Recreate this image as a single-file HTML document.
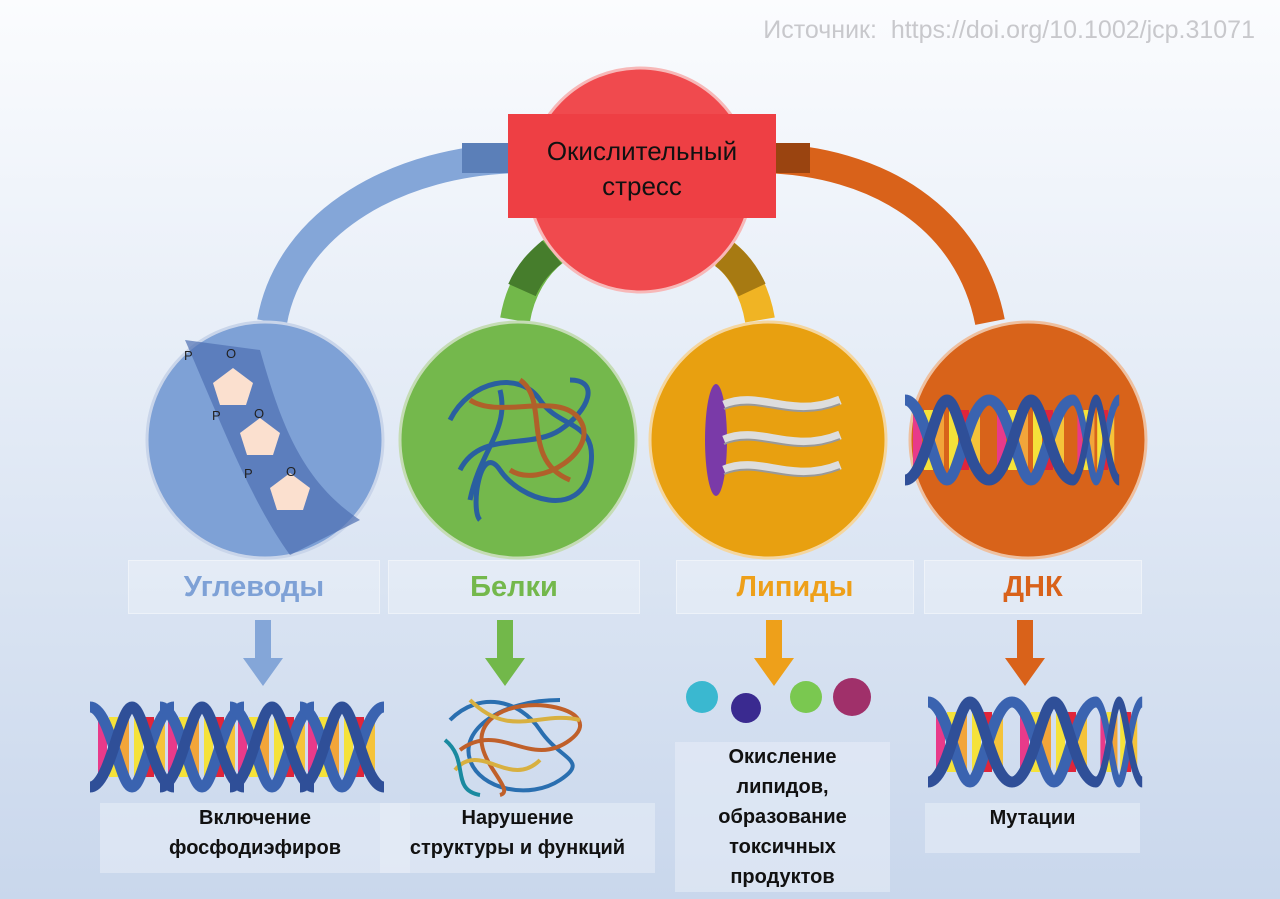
<!DOCTYPE html>
<html><head><meta charset="utf-8"><style>
body{margin:0;width:1280px;height:899px;overflow:hidden;font-family:"Liberation Sans",sans-serif;background:linear-gradient(#fbfcfe 0%,#e6edf7 40%,#c9d7ec 100%);position:relative}
.t{position:absolute;text-align:center;font-weight:bold;color:#111;font-size:20px;line-height:30px}
.lb{position:absolute;top:560px;height:52px;line-height:52px;text-align:center;font-weight:bold;font-size:29px;background:rgba(255,255,255,.25);border:1px solid rgba(255,255,255,.4)}
</style></head><body>
<div style="position:absolute;right:25px;top:16px;font-size:25px;color:#c8c8cc">Источник:&nbsp; https://doi.org/10.1002/jcp.31071</div>
<svg width="1280" height="899" style="position:absolute;left:0;top:0">
<defs>
<g id="dna">
 <rect x="8" y="10" width="9" height="60" fill="#e83a8a"/><rect x="19" y="10" width="9" height="60" fill="#f5e23a"/><rect x="30" y="10" width="9" height="60" fill="#f2a53a"/>
 <rect x="44" y="10" width="9" height="60" fill="#f5e23a"/><rect x="55" y="10" width="9" height="60" fill="#e0253a"/><rect x="66" y="10" width="9" height="60" fill="#f5c33a"/>
 <path d="M0 0 C20 0 30 80 42 80 S64 0 84 0" stroke="#3a63b0" stroke-width="11" fill="none"/>
 <path d="M0 80 C20 80 30 0 42 0 S64 80 84 80" stroke="#2f4f98" stroke-width="11" fill="none"/>
</g>
</defs>
<!-- arcs -->
<path d="M272 322 C290 220 400 160 520 158" stroke="#84a6d8" stroke-width="30" fill="none"/>
<path d="M462 158 L520 158" stroke="#5b7fb8" stroke-width="30"/>
<path d="M990 322 C970 220 880 160 760 158" stroke="#d9621a" stroke-width="30" fill="none"/>
<path d="M770 158 L810 158" stroke="#9a4410" stroke-width="30"/>
<path d="M515 320 C520 290 535 265 555 250" stroke="#72b84a" stroke-width="30" fill="none"/>
<path d="M522 290 C530 272 540 262 552 252" stroke="#467d2c" stroke-width="30" fill="none"/>
<path d="M760 320 C755 290 740 265 722 252" stroke="#f0b424" stroke-width="30" fill="none"/>
<path d="M752 290 C745 275 735 262 724 254" stroke="#a77a12" stroke-width="30" fill="none"/>
<!-- center -->
<circle cx="640" cy="180" r="112" fill="#f04a4e" stroke="#f7b8b8" stroke-width="3"/>
<rect x="508" y="114" width="268" height="104" fill="#ee3f44"/>
<text x="642" y="160" text-anchor="middle" font-size="26" fill="#111" font-family="Liberation Sans">Окислительный</text>
<text x="642" y="195" text-anchor="middle" font-size="26" fill="#111" font-family="Liberation Sans">стресс</text>
<!-- circles -->
<circle cx="265" cy="440" r="118" fill="#7ea1d6" stroke="#c9d5ea" stroke-width="3"/>
<path d="M185 340 L260 350 C280 420 300 480 360 520 L290 555 C250 500 220 420 185 340Z" fill="#4e6fb2" opacity=".7"/>
<polygon points="213,383 233,368 253,383 246,405 220,405" fill="#fbe0cf"/>
<polygon points="240,433 260,418 280,433 273,455 247,455" fill="#fbe0cf"/>
<polygon points="270,488 290,473 310,488 303,510 277,510" fill="#fbe0cf"/>
<text x="184" y="360" font-size="13" fill="#222">P</text><text x="226" y="358" font-size="13" fill="#222">O</text>
<text x="212" y="420" font-size="13" fill="#222">P</text><text x="254" y="418" font-size="13" fill="#222">O</text>
<text x="244" y="478" font-size="13" fill="#222">P</text><text x="286" y="476" font-size="13" fill="#222">O</text>
<circle cx="518" cy="440" r="118" fill="#74b84c" stroke="#c5dcb5" stroke-width="3"/>
<path d="M450 420 C470 380 520 370 540 400 S600 420 590 470 S520 500 500 470 S470 510 480 520 M460 470 C480 430 530 450 560 430 S600 380 570 380 M500 390 C510 430 480 450 470 500" stroke="#2a5fa0" stroke-width="5" fill="none"/>
<path d="M470 400 C500 420 560 390 580 420 S540 490 510 470 M520 380 C550 400 520 460 570 480" stroke="#b0602a" stroke-width="5" fill="none"/>
<circle cx="768" cy="440" r="118" fill="#e8a010" stroke="#f4d6a0" stroke-width="3"/>
<ellipse cx="716" cy="440" rx="11" ry="56" fill="#7a3aa8"/>
<path d="M724 405 C760 390 790 420 840 400 M724 440 C760 425 790 455 840 435 M724 470 C760 455 790 485 840 465" stroke="#ddd" stroke-width="9" fill="none"/>
<path d="M724 405 C760 390 790 420 840 400 M724 440 C760 425 790 455 840 435 M724 470 C760 455 790 485 840 465" stroke="#999" stroke-width="2" fill="none" transform="translate(0,4)"/>
<circle cx="1028" cy="440" r="118" fill="#d8631a" stroke="#eec0a0" stroke-width="3"/>
<use href="#dna" x="905" y="400"/><use href="#dna" x="989" y="400"/><use href="#dna" x="1040" y="400" opacity="0"/>
<g transform="translate(1073,400) scale(0.55,1)"><use href="#dna"/></g>
<!-- arrows -->
<g fill="#84a6d8"><rect x="255" y="620" width="16" height="40"/><polygon points="243,658 283,658 263,686"/></g>
<g fill="#72b84a"><rect x="497" y="620" width="16" height="40"/><polygon points="485,658 525,658 505,686"/></g>
<g fill="#eea01a"><rect x="766" y="620" width="16" height="40"/><polygon points="754,658 794,658 774,686"/></g>
<g fill="#d9621a"><rect x="1017" y="620" width="16" height="40"/><polygon points="1005,658 1045,658 1025,686"/></g>
<!-- bottom images -->
<use href="#dna" x="90" y="707"/><use href="#dna" x="160" y="707"/><use href="#dna" x="230" y="707"/><use href="#dna" x="300" y="707"/>
<g stroke-width="4" fill="none">
<path d="M450 720 C480 690 520 700 540 730 S590 760 560 780 S480 790 470 760 S500 700 560 700" stroke="#2a6fb0"/>
<path d="M460 750 C500 720 530 770 570 740 S520 690 490 720 S520 790 500 795" stroke="#c0602a"/>
<path d="M470 700 C510 740 540 710 580 720 M455 770 C480 740 510 790 540 760" stroke="#d8b040"/>
<path d="M445 740 C470 760 450 790 480 795" stroke="#1a8aa0"/>
</g>
<circle cx="702" cy="697" r="16" fill="#3ab8d0"/><circle cx="746" cy="708" r="15" fill="#3a2a90"/><circle cx="806" cy="697" r="16" fill="#7ac850"/><circle cx="852" cy="697" r="19" fill="#a0306a"/>
<use href="#dna" x="928" y="702"/><use href="#dna" x="1012" y="702"/><g transform="translate(1096,702) scale(0.55,1)"><use href="#dna"/></g>
</svg>
<div class="lb" style="left:128px;width:250px;color:#7ea1d6">Углеводы</div>
<div class="lb" style="left:388px;width:250px;color:#74b84c">Белки</div>
<div class="lb" style="left:676px;width:236px;color:#eea01a">Липиды</div>
<div class="lb" style="left:924px;width:216px;color:#d9621a">ДНК</div>
<div class="t" style="left:100px;width:310px;top:803px;background:rgba(230,236,246,.6);height:70px">Включение<br>фосфодиэфиров</div>
<div class="t" style="left:380px;width:275px;top:803px;background:rgba(230,236,246,.6);height:70px">Нарушение<br>структуры и функций</div>
<div class="t" style="left:675px;width:215px;top:742px;background:rgba(230,236,246,.6);height:150px">Окисление<br>липидов,<br>образование<br>токсичных<br>продуктов</div>
<div class="t" style="left:925px;width:215px;top:803px;background:rgba(230,236,246,.6);height:50px">Мутации</div>
</body></html>
